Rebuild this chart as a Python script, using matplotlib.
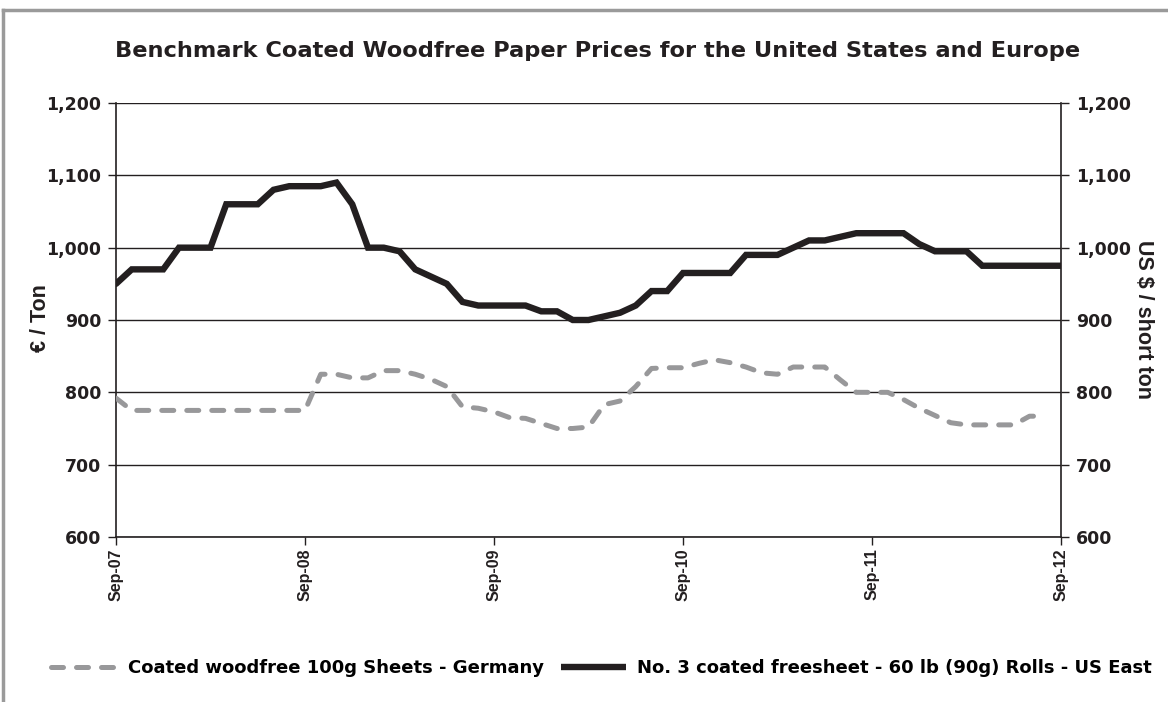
import matplotlib
matplotlib.use("Agg")
import matplotlib.pyplot as plt
import numpy as np
from matplotlib.lines import Line2D
from matplotlib import font_manager as fm

title = "Benchmark Coated Woodfree Paper Prices for the United States and Europe"
left_label = "€ / Ton"
right_label = "US $ / short ton"
tick_labels = ["Sep-07", "Sep-08", "Sep-09", "Sep-10", "Sep-11", "Sep-12"]
germany_name = "Coated woodfree 100g Sheets - Germany"
us_name = "No. 3 coated freesheet - 60 lb (90g) Rolls - US East"

# Monthly prices, Sep-07 .. Sep-12
germany_eur = [
    792, 775, 775, 775, 775, 775, 775, 775, 775, 775, 775, 775,
    775, 825, 825, 820, 820, 830, 830, 825, 818, 808, 780, 778,
    773, 765, 764, 757, 750, 750, 752, 783, 788, 808, 833, 834,
    834, 840, 845, 841, 835, 827, 825, 835, 835, 835, 817, 800,
    800, 800, 790, 778, 768, 758, 755, 755, 755, 755, 767, 767,
    np.nan,
]
us_usd = [
    950, 970, 970, 970, 1000, 1000, 1000, 1060, 1060, 1060, 1080, 1085,
    1085, 1085, 1090, 1060, 1000, 1000, 995, 970, 960, 950, 925, 920,
    920, 920, 920, 912, 912, 900, 900, 905, 910, 920, 940, 940,
    965, 965, 965, 965, 990, 990, 990, 1000, 1010, 1010, 1015, 1020,
    1020, 1020, 1020, 1005, 995, 995, 995, 975, 975, 975, 975, 975,
    975,
]
y_min, y_max, y_step = 600, 1200, 100

# wide face for horizontal text, narrow face for rotated text
available = {f.name for f in fm.fontManager.ttflist}
H_FONT = ["DejaVu Sans"]
if "Liberation Sans Narrow" in available:
    V_FONT = ["Liberation Sans Narrow", "DejaVu Sans"]
    v_tick_size, v_label_size = 13.5, 18.5
else:
    V_FONT = ["Liberation Sans", "DejaVu Sans"]
    v_tick_size, v_label_size = 11.5, 15.5

plt.rcParams["font.family"] = H_FONT
plt.rcParams["font.weight"] = "bold"

INK = "#231f20"
GREY = "#98989a"

months = np.arange(len(us_usd))

fig = plt.figure(figsize=(11.68, 7.02), dpi=100)
ax = fig.add_axes([116 / 1168, 1 - 537 / 702, (1061 - 116) / 1168, (537 - 103) / 702])
ax2 = ax.twinx()

ax.plot(months, us_usd, color=INK, lw=4.6, solid_capstyle="round",
        solid_joinstyle="miter", zorder=3)
ax2.plot(months, germany_eur, color=GREY, lw=3.6,
         linestyle=(0, (2.4, 2.6)), dash_capstyle="round", zorder=3)

yt = np.arange(y_min, y_max + 1, y_step)
for a in (ax, ax2):
    a.set_ylim(y_min, y_max)
    a.set_yticks(yt)
    a.set_yticklabels([f"{v:,}" for v in yt], fontsize=12.5, fontweight="bold",
                      color=INK)
    a.set_xlim(0, 60)
    for s in a.spines.values():
        s.set_color(INK)
        s.set_linewidth(1.2)
    a.spines["top"].set_visible(False)
    a.tick_params(axis="y", direction="out", length=5.8, width=1.0, color=INK, pad=5)
ax.spines["right"].set_visible(False)
ax2.spines["left"].set_visible(False)
ax2.spines["bottom"].set_visible(False)

ax.yaxis.grid(True, color=INK, lw=1.0)
ax.set_axisbelow(True)

ax.set_xticks(np.arange(0, 61, 12))
ax.set_xticklabels(tick_labels, rotation=90, fontsize=v_tick_size, fontweight="bold",
                   family=V_FONT, color=INK)
ax.tick_params(axis="x", direction="out", length=5.8, width=1.0, color=INK, pad=2.5)

fig.text(40 / 1168, 1 - 318 / 702, left_label, rotation=90, ha="center", va="center",
         fontsize=v_label_size, fontweight="bold", family=V_FONT, color=INK)
fig.text(1143 / 1168, 1 - 320 / 702, right_label, rotation=-90, ha="center", va="center",
         fontsize=v_label_size, fontweight="bold", family=V_FONT, color=INK)

fig.text((117 + 1078) / 2 / 1168, 1 - 51 / 702, title, ha="center", va="center",
         fontsize=16.2, fontweight="bold", color=INK)

handles = [
    Line2D([], [], color=GREY, lw=3.6, linestyle=(0, (2.4, 2.6)), dash_capstyle="round"),
    Line2D([], [], color=INK, lw=4.6, solid_capstyle="butt"),
]
fig.legend(handles, [germany_name, us_name], loc="center", ncol=2,
           bbox_to_anchor=((40 + 1163) / 2 / 1168, 1 - 668 / 702), frameon=False,
           prop={"size": 13.0, "weight": "bold", "family": H_FONT},
           handlelength=3.6, handletextpad=0.65, columnspacing=0.95,
           borderpad=0, borderaxespad=0)

# page frame
frame_kw = dict(color="#9a9a9a", lw=2.5, transform=fig.transFigure)
fig.add_artist(Line2D([3 / 1168, 1], [1 - 10 / 702, 1 - 10 / 702], **frame_kw))
fig.add_artist(Line2D([3 / 1168, 3 / 1168], [0, 1 - 10 / 702], **frame_kw))

fig.savefig("out.png", dpi=100)
